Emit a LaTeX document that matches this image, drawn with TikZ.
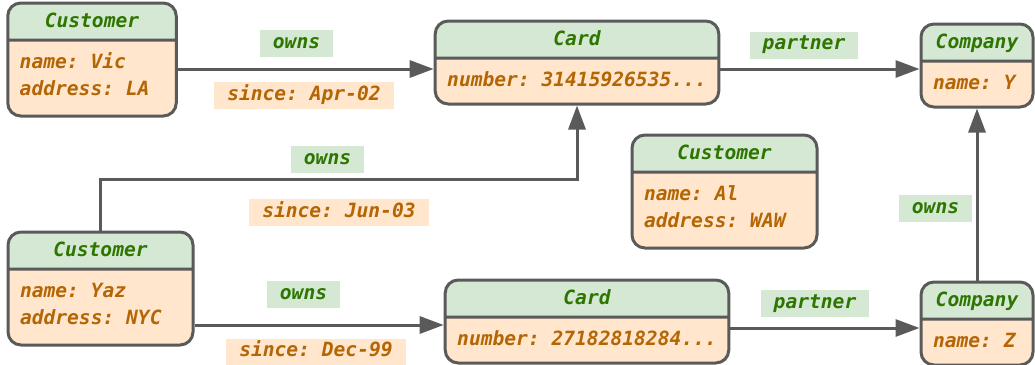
\documentclass[tikz,border=0pt]{standalone}
\usepackage{fontspec}
\newfontfamily\diafont{DejaVu Sans Mono}
\usetikzlibrary{shapes.multipart, arrows.meta}
\definecolor{hdrfill}{HTML}{D5E8D4}
\definecolor{bodyfill}{HTML}{FFE6CC}
\definecolor{hdrtext}{HTML}{2D7600}
\definecolor{bodytext}{HTML}{B46504}
\definecolor{linegray}{HTML}{5A5A5A}
\newcommand{\enttitle}[1]{\rule[-11pt]{0pt}{34pt}\textcolor{hdrtext}{#1}}
\newcommand{\attrtop}{\rule{0pt}{27pt}}
\newcommand{\attrend}[1]{\rule[-#1]{0pt}{0pt}}
\frenchspacing
\tikzset{
	diafont/.style={
		font={\diafont\bfseries\itshape\fontsize{19.6}{27}\selectfont\frenchspacing}
	},
	entity/.style={
		rectangle split, rectangle split parts=2,
		rectangle split part fill={hdrfill,bodyfill},
		rectangle split part align={center,left},
		draw=linegray, line width=3pt, rounded corners=13pt,
		inner xsep=12pt, inner ysep=0pt,
		align=left,
		diafont,
		text=bodytext,
		minimum width=#1
	},
	relbox/.style={
		diafont,
		inner xsep=13pt, inner ysep=5pt,
		text height=13pt, text depth=4pt
	},
	ownslbl/.style={relbox, fill=hdrfill, text=hdrtext},
	sincelbl/.style={relbox, fill=bodyfill, text=bodytext},
	link/.style={
		draw=linegray, line width=3pt,
		-{Triangle[length=24pt, width=17pt]}
	}
}

\begin{document}
\begin{tikzpicture}[x=1pt, y=-1pt]
	\useasboundingbox (0,0) rectangle (1035,364);

	% entities
	\node[entity=168.5pt] (vic) at (92,59.5) {\enttitle{Customer}\nodepart{two}\attrtop name: Vic\\address: LA\attrend{19pt}};
	\node[entity=280pt] (card1) at (577,62.5) {\enttitle{Card}\nodepart{two}\attrtop number: 31415926535...\attrend{16pt}};
	\node[entity=112pt] (compy) at (977,65.5) {\enttitle{Company}\nodepart{two}\attrtop name: Y\attrend{16pt}};
	\node[entity=185pt] (al) at (724.5,191.5) {\enttitle{Customer}\nodepart{two}\attrtop name: Al\\address: WAW\attrend{19pt}};
	\node[entity=185pt] (yaz) at (100.5,288.5) {\enttitle{Customer}\nodepart{two}\attrtop name: Yaz\\address: NYC\attrend{19pt}};
	\node[entity=280pt] (card2) at (587,321.5) {\enttitle{Card}\nodepart{two}\attrtop number: 27182818284...\attrend{16pt}};
	\node[entity=112pt] (compz) at (977,323.5) {\enttitle{Company}\nodepart{two}\attrtop name: Z\attrend{16pt}};

	% relationships
	\draw[link] (vic.east |- 0,69) -- (card1.west |- 0,69);
	\draw[link] (card1.east |- 0,69) -- (compy.west |- 0,69);
	\draw[link] (yaz.north) -- ++(0,-51) -| (card1.south);
	\draw[link] (yaz.east |- 0,325) -- (card2.west |- 0,325);
	\draw[link] (card2.east |- 0,328) -- (compz.west |- 0,328);
	\draw[link] (compz.north) -- (compy.south);

	% labels
	\node[ownslbl] (owns1) at (296.5,43.5) {owns};
	\node[sincelbl] (since1) at (304,95.5) {since: Apr-02};
	\node[ownslbl] (partner1) at (804,45) {partner};
	\node[ownslbl] (owns2) at (327.5,159.5) {owns};
	\node[sincelbl] (since2) at (339,212.5) {since: Jun-03};
	\node[ownslbl] (owns3) at (303.5,294.5) {owns};
	\node[sincelbl] (since3) at (316,352) {since: Dec-99};
	\node[ownslbl] (partner2) at (815,303.5) {partner};
	\node[ownslbl] (owns4) at (935.5,208.5) {owns};
\end{tikzpicture}
\end{document}
